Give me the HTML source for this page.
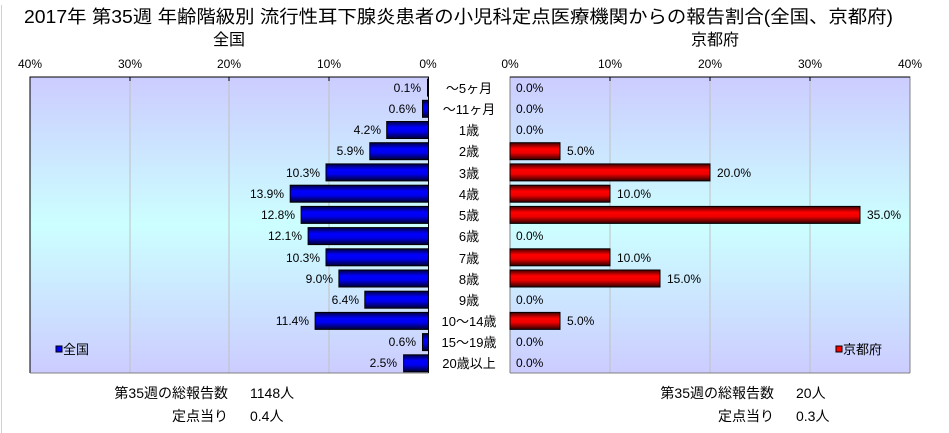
<!DOCTYPE html>
<html><head><meta charset="utf-8"><style>
html,body{margin:0;padding:0;background:#fff;}
svg{display:block;font-family:"Liberation Sans","Noto Sans CJK JP",sans-serif;}
</style></head><body>
<svg width="949" height="433" viewBox="0 0 949 433" xmlns="http://www.w3.org/2000/svg">
<defs>
<linearGradient id="bg" x1="0" y1="0" x2="0" y2="1">
<stop offset="0" stop-color="#ccccff"/><stop offset="0.5" stop-color="#ccffff"/><stop offset="1" stop-color="#ccccff"/>
</linearGradient>
<linearGradient id="bl" x1="0" y1="0" x2="0" y2="1">
<stop offset="0" stop-color="#000040"/><stop offset="0.35" stop-color="#0000ff"/><stop offset="0.6" stop-color="#0000ee"/><stop offset="1" stop-color="#000030"/>
</linearGradient>
<linearGradient id="rd" x1="0" y1="0" x2="0" y2="1">
<stop offset="0" stop-color="#400000"/><stop offset="0.35" stop-color="#ff0000"/><stop offset="0.6" stop-color="#ee0000"/><stop offset="1" stop-color="#300000"/>
</linearGradient>
</defs>
<line x1="1.5" y1="5" x2="1.5" y2="433" stroke="#d0d0d0"/>
<text x="24" y="23" font-size="18" textLength="869" lengthAdjust="spacingAndGlyphs" fill="#000">2017年 第35週 年齢階級別 流行性耳下腺炎患者の小児科定点医療機関からの報告割合(全国、京都府)</text>
<text x="229" y="45" font-size="16" text-anchor="middle">全国</text>
<text x="715" y="45" font-size="16" text-anchor="middle">京都府</text>
<g font-size="12" text-anchor="middle">
<text x="30" y="68">40%</text><text x="130" y="68">30%</text><text x="229" y="68">20%</text><text x="329" y="68">10%</text><text x="428" y="68">0%</text>
<text x="510" y="68">0%</text><text x="610" y="68">10%</text><text x="710" y="68">20%</text><text x="810" y="68">30%</text><text x="910" y="68">40%</text>
</g>
<rect x="30" y="77" width="398.5" height="296" fill="url(#bg)"/>
<rect x="510" y="77" width="400" height="296" fill="url(#bg)"/>
<g stroke="#c0c0c0">
<line x1="130" y1="77" x2="130" y2="373"/><line x1="229" y1="77" x2="229" y2="373"/><line x1="329" y1="77" x2="329" y2="373"/>
<line x1="610" y1="77" x2="610" y2="373"/><line x1="710" y1="77" x2="710" y2="373"/><line x1="810" y1="77" x2="810" y2="373"/>
</g>
<g stroke="#000">
<line x1="130" y1="77" x2="130" y2="81"/><line x1="229" y1="77" x2="229" y2="81"/><line x1="329" y1="77" x2="329" y2="81"/>
<line x1="610" y1="77" x2="610" y2="81"/><line x1="710" y1="77" x2="710" y2="81"/><line x1="810" y1="77" x2="810" y2="81"/>
</g>
<path d="M30 373V77H428.5V373" fill="none" stroke="#000"/>
<path d="M30 373H428.5" stroke="#808080"/>
<path d="M910 373V77H510V373" fill="none" stroke="#808080"/>
<path d="M510 77H910" stroke="#000"/>
<path d="M510 373H910" stroke="#808080"/>
<g stroke="#000" stroke-width="1" fill="url(#bl)">
<rect x="427.5" y="79.1" width="1" height="17"/>
<rect x="422.5" y="100.3" width="6" height="17"/>
<rect x="386.7" y="121.5" width="41.8" height="17"/>
<rect x="369.8" y="142.7" width="58.7" height="17"/>
<rect x="326" y="163.9" width="102.5" height="17"/>
<rect x="290.2" y="185.2" width="138.3" height="17"/>
<rect x="301.1" y="206.4" width="127.4" height="17"/>
<rect x="308.1" y="227.6" width="120.4" height="17"/>
<rect x="326" y="248.8" width="102.5" height="17"/>
<rect x="338.9" y="270" width="89.6" height="17"/>
<rect x="364.8" y="291.2" width="63.7" height="17"/>
<rect x="315.1" y="312.4" width="113.4" height="17"/>
<rect x="422.5" y="333.6" width="6" height="17"/>
<rect x="403.6" y="354.8" width="24.9" height="17"/>
</g>
<g stroke="#000" stroke-width="1" fill="url(#rd)">
<rect x="510" y="142.7" width="50" height="17"/>
<rect x="510" y="163.9" width="200" height="17"/>
<rect x="510" y="185.2" width="100" height="17"/>
<rect x="510" y="206.4" width="350" height="17"/>
<rect x="510" y="248.8" width="100" height="17"/>
<rect x="510" y="270" width="150" height="17"/>
<rect x="510" y="312.4" width="50" height="17"/>
</g>
<g font-size="12" text-anchor="end">
<text x="421" y="92">0.1%</text>
<text x="416" y="113">0.6%</text>
<text x="381" y="134">4.2%</text>
<text x="364" y="155">5.9%</text>
<text x="320" y="177">10.3%</text>
<text x="284" y="198">13.9%</text>
<text x="295" y="219">12.8%</text>
<text x="302" y="240">12.1%</text>
<text x="320" y="262">10.3%</text>
<text x="333" y="283">9.0%</text>
<text x="359" y="304">6.4%</text>
<text x="309" y="325">11.4%</text>
<text x="416" y="346">0.6%</text>
<text x="397" y="367">2.5%</text>
</g>
<g font-size="12">
<text x="516" y="92">0.0%</text>
<text x="516" y="113">0.0%</text>
<text x="516" y="134">0.0%</text>
<text x="567" y="155">5.0%</text>
<text x="717" y="177">20.0%</text>
<text x="617" y="198">10.0%</text>
<text x="867" y="219">35.0%</text>
<text x="516" y="240">0.0%</text>
<text x="617" y="262">10.0%</text>
<text x="667" y="283">15.0%</text>
<text x="516" y="304">0.0%</text>
<text x="567" y="325">5.0%</text>
<text x="516" y="346">0.0%</text>
<text x="516" y="367">0.0%</text>
</g>
<g font-size="13" text-anchor="middle">
<text x="469" y="93">～5ヶ月</text>
<text x="469" y="114">～11ヶ月</text>
<text x="469" y="135">1歳</text>
<text x="469" y="156">2歳</text>
<text x="469" y="178">3歳</text>
<text x="469" y="199">4歳</text>
<text x="469" y="220">5歳</text>
<text x="469" y="241">6歳</text>
<text x="469" y="263">7歳</text>
<text x="469" y="284">8歳</text>
<text x="469" y="305">9歳</text>
<text x="469" y="326">10～14歳</text>
<text x="469" y="347">15～19歳</text>
<text x="469" y="368">20歳以上</text>
</g>
<rect x="56" y="346" width="6" height="6" fill="#0000ff" stroke="#000"/>
<text x="63" y="354" font-size="13">全国</text>
<rect x="836" y="346" width="6" height="6" fill="#ff0000" stroke="#000"/>
<text x="843" y="354" font-size="13">京都府</text>
<g font-size="14">
<text x="228" y="398" text-anchor="end">第35週の総報告数</text>
<text x="250" y="398">1148人</text>
<text x="228" y="421" text-anchor="end">定点当り</text>
<text x="250" y="421">0.4人</text>
<text x="774" y="398" text-anchor="end">第35週の総報告数</text>
<text x="796" y="398">20人</text>
<text x="774" y="421" text-anchor="end">定点当り</text>
<text x="796" y="421">0.3人</text>
</g>
</svg>
</body></html>
